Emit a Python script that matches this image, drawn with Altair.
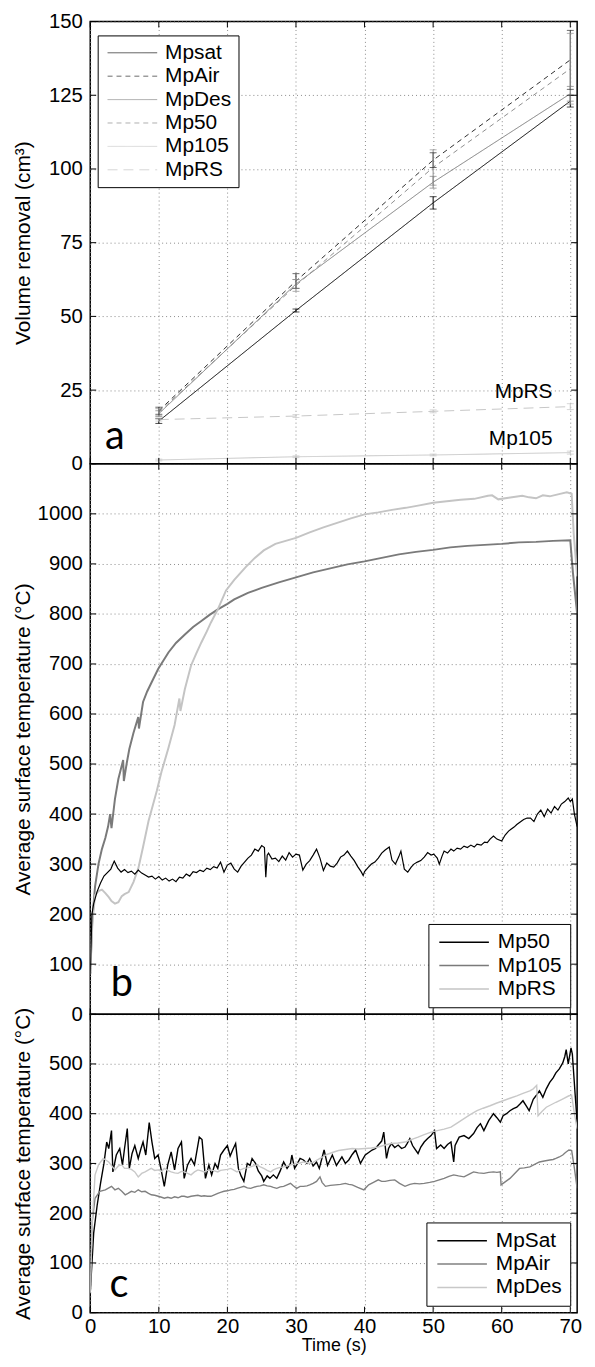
import altair as alt
import pandas as pd

# ---------------- panel a : volume removal ----------------
a_time = [10, 30, 50, 70]
a_names = ["Mpsat", "MpAir", "MpDes", "Mp50", "Mp105", "MpRS"]
a_mpsat = [14.5, 52.0, 88.5, 123.0]
a_mpair = [18.0, 62.0, 103.0, 137.0]
a_mpdes = [17.0, 61.0, 95.5, 125.5]
a_mp50 = [17.5, 60.5, 100.5, 134.0]
a_mp105 = [1.3, 2.4, 3.0, 3.8]
a_mprs = [15.0, 16.2, 17.8, 19.4]
a_err_mpsat = [0.8, 0.5, 2.1, 2.0]
a_err_mpair = [1.2, 2.5, 2.5, 10.0]
a_err_mpdes = [1.0, 1.5, 2.0, 2.5]
a_err_mp50 = [1.2, 2.0, 6.0, 12.0]
a_err_mp105 = [0.3, 0.3, 0.3, 0.5]
a_err_mprs = [0.5, 0.5, 0.5, 1.0]
a_yticks = [0, 25, 50, 75, 100, 125, 150]
a_note_text = ["MpRS", "Mp105"]
a_note_t = [67.4, 67.4]
a_note_v = [22.2, 6.3]

# ---------------- panel b : temperature, Mp50 / Mp105 / MpRS ----------------
b_names = ["Mp50", "Mp105", "MpRS"]
b_mp50 = [(0, 80), (0.25, 200), (0.5, 221), (1.0, 245), (1.5, 262), (2.0, 276), (2.5, 283), (3.0, 290),
          (3.5, 306), (4.0, 292), (4.5, 284), (5.0, 289), (5.5, 283), (6.0, 286), (6.5, 280), (7.0, 288),
          (7.5, 282), (8.0, 278), (8.5, 274), (9.0, 276), (9.5, 270), (10.0, 275), (10.5, 268), (11.0, 272),
          (11.5, 266), (12.0, 270), (12.5, 265), (13.0, 274), (13.5, 272), (14.0, 280), (14.5, 276),
          (15.0, 285), (15.5, 283), (16.0, 288), (16.5, 285), (17.0, 292), (17.5, 289), (18.0, 295),
          (18.5, 292), (19.0, 304), (19.5, 284), (20.0, 298), (20.5, 302), (21.0, 290), (21.5, 284),
          (22.0, 296), (22.5, 304), (23.0, 312), (23.5, 318), (24.0, 330), (24.5, 326), (25.0, 337),
          (25.4, 333), (25.6, 274), (25.8, 318), (26.0, 322), (26.5, 310), (27.0, 312), (27.5, 305),
          (28.0, 316), (28.5, 308), (29.0, 323), (29.5, 314), (30.0, 320), (30.5, 318), (31.0, 288),
          (31.5, 300), (32.0, 307), (32.5, 318), (33.0, 330), (33.5, 312), (34.0, 287), (34.5, 302),
          (35.0, 296), (35.5, 294), (36.0, 302), (36.5, 314), (37.0, 318), (37.5, 326), (38.0, 316),
          (38.5, 307), (39.0, 295), (39.5, 285), (39.8, 277), (40.0, 285), (40.5, 293), (41.0, 300),
          (41.5, 304), (42.0, 312), (42.5, 322), (43.0, 328), (43.6, 334), (44.0, 308), (44.5, 300),
          (45.0, 315), (45.3, 326), (45.8, 290), (46.3, 284), (46.8, 294), (47.2, 300), (47.7, 304),
          (48.2, 307), (48.7, 314), (49.2, 323), (49.7, 318), (50.1, 320), (50.6, 312), (50.9, 300),
          (51.3, 316), (51.6, 326), (52.1, 322), (52.6, 330), (53.0, 326), (53.5, 332), (54.0, 330),
          (54.5, 336), (55.0, 333), (55.5, 338), (56.0, 334), (56.4, 340), (57.0, 338), (57.5, 344),
          (57.9, 343), (58.3, 350), (58.8, 356), (59.3, 350), (60.0, 346), (60.5, 358), (61.0, 366),
          (61.3, 369), (61.8, 374), (62.2, 379), (62.7, 384), (63.2, 389), (63.7, 392), (64.2, 392),
          (64.7, 385), (65.2, 400), (65.7, 408), (66.2, 395), (66.7, 410), (67.2, 402), (67.7, 415),
          (68.2, 408), (68.7, 420), (69.2, 425), (69.7, 432), (70.0, 425), (70.3, 430), (70.6, 400),
          (71.0, 375)]
b_mp105 = [(0, 80), (0.3, 190), (0.7, 255), (1.2, 300), (1.7, 330), (2.2, 352), (2.6, 375), (2.9, 400),
           (3.1, 372), (3.6, 430), (4.1, 470), (4.8, 508), (4.9, 466), (5.3, 500), (5.7, 530), (6.3, 562),
           (7.0, 594), (7.1, 571), (7.7, 624), (8.3, 645), (8.9, 662), (9.9, 690), (11.4, 723), (12.5, 742),
           (13.8, 759), (15.0, 774), (16.2, 786), (17.4, 798), (18.6, 809), (20, 820), (21, 829), (23, 842),
           (25, 852), (27.5, 863), (30, 873), (32.5, 883), (35, 891), (37.5, 899), (40, 905), (42.5, 912),
           (45, 919), (47.5, 924), (50, 928), (52.5, 933), (55, 936), (57.5, 938), (60, 940), (62.5, 943),
           (65, 944), (67.5, 946), (70, 947), (70.4, 880), (71, 800)]
b_mprs = [(0, 80), (0.3, 180), (0.7, 238), (1.2, 246), (1.7, 249), (2.2, 242), (2.7, 234), (3.1, 226),
          (3.6, 221), (4.1, 224), (4.6, 236), (5.0, 240), (5.6, 244), (6.3, 264), (7.0, 291), (7.7, 334),
          (8.5, 386), (8.9, 406), (9.7, 446), (10.4, 485), (11.4, 532), (12.3, 578), (13.0, 631),
          (13.15, 606), (13.8, 650), (14.7, 697), (15.5, 722), (16.2, 743), (17.0, 765), (17.6, 783),
          (18.6, 809), (19.8, 847), (21, 868), (22.7, 894), (24, 912), (25.3, 927), (27, 940), (28.5, 946),
          (30, 952), (32, 963), (34, 973), (36, 982), (38, 991), (40, 999), (42, 1003), (44, 1008),
          (46, 1012), (48, 1017), (50, 1022), (52, 1025), (54, 1028), (56, 1030), (58, 1036), (58.6, 1037),
          (59.5, 1029), (61, 1032), (63, 1036), (64, 1033), (65, 1031), (66, 1037), (67, 1035),
          (68.5, 1040), (69.5, 1043), (70.2, 1040), (70.5, 960), (71, 875)]
b_yticks = [0, 100, 200, 300, 400, 500, 600, 700, 800, 900, 1000]

# ---------------- panel c : temperature, MpSat / MpAir / MpDes ----------------
c_names = ["MpSat", "MpAir", "MpDes"]
c_mpsat = [(0, 40), (0.5, 160), (1.0, 215), (1.5, 260), (2.0, 300), (2.4, 343), (2.7, 330), (3.1, 366),
           (3.3, 283), (3.8, 317), (4.3, 330), (4.7, 297), (5.0, 330), (5.4, 370), (5.7, 290), (6.1, 320),
           (6.5, 336), (7.0, 310), (7.4, 330), (7.7, 343), (8.1, 317), (8.6, 382), (9.0, 343), (9.4, 310),
           (9.9, 317), (10.3, 290), (10.8, 254), (11.3, 297), (11.8, 323), (12.3, 287), (12.8, 330),
           (13.3, 343), (13.7, 270), (14.2, 297), (14.7, 310), (15.2, 297), (15.9, 353), (16.3, 348),
           (16.8, 270), (17.3, 297), (17.7, 277), (18.2, 300), (18.6, 290), (19.0, 317), (19.5, 327),
           (20.0, 336), (20.4, 315), (20.8, 328), (21.2, 340), (21.6, 290), (22.0, 275), (22.4, 264),
           (22.9, 300), (23.3, 296), (23.6, 310), (24.1, 300), (24.5, 285), (25.0, 275), (25.3, 264),
           (25.8, 275), (26.2, 270), (26.7, 277), (27.2, 270), (27.7, 285), (28.2, 303), (28.7, 290),
           (29.2, 300), (29.4, 317), (29.8, 290), (30.1, 297), (30.6, 310), (31.1, 307), (31.6, 300),
           (32.0, 310), (32.5, 295), (33.0, 303), (33.4, 290), (34.1, 327), (34.6, 296), (35.3, 317),
           (35.9, 296), (36.7, 313), (37.2, 300), (37.7, 307), (38.2, 318), (38.7, 327), (39.4, 300),
           (40.1, 317), (40.6, 322), (41.1, 327), (41.6, 330), (42.0, 337), (42.5, 345), (42.8, 363),
           (43.2, 310), (43.5, 330), (43.9, 340), (44.4, 332), (44.9, 337), (45.4, 330), (45.9, 333),
           (46.2, 340), (46.6, 350), (47.0, 336), (47.3, 330), (47.8, 320), (48.2, 333), (48.7, 343),
           (49.2, 350), (49.7, 356), (50.2, 366), (50.5, 330), (51.1, 337), (51.6, 330), (52.1, 338),
           (52.6, 343), (53.0, 303), (53.2, 336), (53.8, 353), (54.5, 356), (55.2, 350), (55.9, 360),
           (56.4, 372), (56.9, 380), (57.4, 366), (58.1, 386), (58.8, 400), (59.3, 392), (59.8, 383),
           (60.2, 396), (60.7, 400), (61.2, 406), (61.7, 410), (62.2, 413), (62.7, 420), (63.1, 426),
           (63.6, 415), (64.0, 406), (64.6, 429), (65.0, 436), (65.5, 446), (66.0, 433), (66.5, 450),
           (67.0, 463), (67.5, 472), (67.9, 482), (68.4, 490), (68.9, 502), (69.2, 515), (69.4, 529),
           (69.7, 500), (70.1, 532), (70.3, 520), (70.7, 440), (71.0, 383)]
c_mpair = [(0, 40), (0.3, 184), (0.7, 230), (1.4, 244), (2.2, 247), (3.1, 254), (3.6, 247), (4.1, 250),
           (4.6, 244), (5.1, 237), (5.5, 240), (6.0, 244), (6.5, 242), (7.0, 247), (7.5, 243), (8.0, 244),
           (8.5, 240), (8.9, 237), (9.4, 236), (9.9, 234), (10.4, 232), (10.8, 230), (11.3, 232),
           (11.8, 230), (12.3, 233), (12.8, 231), (13.3, 234), (13.7, 234), (14.2, 232), (14.7, 234),
           (15.2, 235), (15.7, 236), (16.2, 234), (16.6, 235), (17.1, 234), (17.6, 234), (18.1, 237),
           (18.6, 240), (19.0, 242), (19.5, 244), (20.0, 245), (20.5, 247), (21.0, 248), (21.4, 250),
           (21.9, 252), (22.4, 254), (22.9, 251), (23.4, 250), (23.8, 252), (24.3, 254), (24.8, 255),
           (25.3, 257), (25.8, 255), (26.3, 254), (26.7, 252), (27.2, 250), (27.7, 253), (28.2, 254),
           (28.7, 257), (29.2, 260), (29.6, 255), (30.1, 250), (30.6, 254), (31.1, 254), (31.6, 255),
           (32.0, 257), (32.5, 260), (33.0, 264), (33.5, 273), (33.8, 262), (34.3, 254), (35.0, 256),
           (35.8, 257), (36.5, 258), (37.2, 260), (37.7, 258), (38.2, 257), (39.0, 252), (39.9, 247),
           (40.6, 257), (41.3, 262), (42.0, 267), (42.5, 264), (43.0, 264), (43.7, 266), (44.4, 267),
           (45.1, 260), (45.9, 254), (46.6, 258), (47.3, 260), (48.0, 259), (48.7, 260), (49.5, 262),
           (50.2, 264), (50.9, 267), (51.6, 270), (52.3, 274), (53.0, 277), (53.7, 275), (54.5, 273),
           (55.2, 278), (55.9, 283), (56.6, 281), (57.4, 280), (58.1, 282), (58.8, 283), (59.3, 282),
           (59.8, 283), (59.9, 257), (60.5, 263), (61.2, 270), (61.9, 280), (62.6, 290), (63.3, 291),
           (64.1, 293), (64.8, 298), (65.5, 303), (66.2, 305), (67.0, 307), (67.5, 308), (67.9, 310),
           (68.4, 313), (68.9, 317), (69.3, 322), (69.8, 327), (70.2, 326), (70.6, 290), (71.0, 250)]
c_mpdes = [(0, 40), (0.3, 184), (0.7, 277), (1.2, 297), (1.9, 310), (2.7, 303), (3.6, 287), (4.1, 295),
           (4.6, 297), (5.0, 290), (5.5, 290), (6.0, 288), (6.5, 283), (7.0, 273), (7.5, 280), (8.0, 283),
           (8.5, 287), (8.9, 290), (9.4, 286), (9.9, 287), (10.4, 284), (10.8, 290), (11.3, 286),
           (11.8, 283), (12.3, 281), (12.8, 280), (13.3, 284), (13.7, 283), (14.2, 280), (14.7, 277),
           (15.2, 283), (15.7, 287), (16.2, 285), (16.6, 283), (17.1, 286), (17.6, 287), (18.1, 285),
           (18.6, 283), (19.0, 286), (19.5, 287), (20.0, 288), (20.5, 290), (21.0, 286), (21.4, 283),
           (21.9, 287), (22.4, 290), (22.9, 291), (23.4, 293), (23.8, 295), (24.3, 297), (24.8, 293),
           (25.3, 290), (25.8, 286), (26.3, 283), (26.7, 287), (27.2, 290), (27.7, 292), (28.2, 293),
           (28.7, 295), (29.2, 297), (29.6, 298), (30.1, 300), (30.6, 301), (31.1, 303), (31.6, 302),
           (32.0, 300), (32.5, 302), (33.0, 306), (33.5, 310), (34.0, 314), (34.5, 318), (35.3, 322),
           (36.2, 326), (37.2, 328), (38.2, 330), (39.1, 329), (40.1, 330), (41.0, 331), (42.0, 333),
           (43.0, 337), (43.9, 340), (44.9, 341), (45.9, 343), (46.8, 348), (47.8, 353), (48.7, 358),
           (49.7, 363), (50.6, 366), (51.6, 369), (52.6, 373), (53.5, 381), (54.5, 390), (55.4, 398),
           (56.4, 406), (57.3, 411), (58.3, 416), (59.2, 421), (60.2, 426), (61.2, 431), (62.2, 436),
           (63.1, 441), (64.1, 446), (64.6, 450), (65.1, 457), (65.3, 396), (65.9, 405), (66.5, 413),
           (67.2, 418), (67.9, 423), (68.8, 429), (69.8, 436), (70.2, 437), (70.6, 400), (71.0, 370)]
c_yticks = [0, 100, 200, 300, 400, 500]

# panel letters
letter_text = ["a", "b", "c"]
letter_t = [3.6, 4.6, 4.2]
letter_v = [5.0, 35.6, 32.0]

# ---------------- styles ----------------
W = 491
HA, HB, HC = 446, 555, 301
a_colors = ["#000000", "#2e2e2e", "#7c7c7c", "#8e8e8e", "#c6c6c6", "#c6c6c6"]
a_dashes = [[1, 0], [5, 4], [1, 0], [5, 4], [1, 0], [10, 6]]
b_colors = ["#000000", "#7a7a7a", "#c4c4c4"]
c_colors = ["#000000", "#808080", "#c8c8c8"]
FONT = "Liberation Sans"
LEG_PATH = "M-3,0L17,0"
x_ticks = [0, 10, 20, 30, 40, 50, 60, 70]
xs = alt.Scale(domain=[0, 71], nice=False, zero=False)

# ---------------- data tables ----------------
a_vals = [a_mpsat, a_mpair, a_mpdes, a_mp50, a_mp105, a_mprs]
a_errs = [a_err_mpsat, a_err_mpair, a_err_mpdes, a_err_mp50, a_err_mp105, a_err_mprs]
rows = []
for name, vals, errs in zip(a_names, a_vals, a_errs):
    for t, v, e in zip(a_time, vals, errs):
        rows.append({"series": name, "t": t, "v": v, "lo": v - e, "hi": v + e})
df_a = pd.DataFrame(rows)


def series_frame(names, lists):
    out = []
    for name, pts in zip(names, lists):
        for i, (t, v) in enumerate(pts):
            out.append({"series": name, "t": t, "v": v, "i": i})
    return pd.DataFrame(out)


df_b = series_frame(b_names, [b_mp50, b_mp105, b_mprs])
df_c = series_frame(c_names, [c_mpsat, c_mpair, c_mpdes])

grid_kw = dict(grid=True, gridColor="#8a8a8a", gridDash=[1, 3], gridWidth=1)


def x_axis(show):
    if show:
        return alt.Axis(values=x_ticks, labels=True, ticks=False, tickSize=0, domain=False,
                        title="Time (s)", labelFlush=False, labelPadding=4, titlePadding=0,
                        titleFontSize=18, format="d", **grid_kw)
    return alt.Axis(values=x_ticks, labels=False, ticks=False, tickSize=0, domain=False,
                    title=None, minExtent=0, maxExtent=0, **grid_kw)


def y_axis(vals, title):
    return alt.Axis(values=vals, ticks=False, tickSize=0, domain=False, title=title, labelPadding=8,
                    minExtent=55, maxExtent=55, titlePadding=2, labelFlush=False, format="d",
                    **grid_kw)


def frame_ticks(yvals, ys, H):
    xt = pd.DataFrame({"t": x_ticks})
    yt = pd.DataFrame({"v": yvals})
    xe = alt.X("t:Q", scale=xs)
    ye = alt.Y("v:Q", scale=ys)
    top = alt.Chart(xt).mark_rule(color="black", strokeWidth=1).encode(x=xe, y=alt.value(0), y2=alt.value(6))
    bot = alt.Chart(xt).mark_rule(color="black", strokeWidth=1).encode(x=xe, y=alt.value(H), y2=alt.value(H - 6))
    lef = alt.Chart(yt).mark_rule(color="black", strokeWidth=1).encode(y=ye, x=alt.value(0), x2=alt.value(6))
    rig = alt.Chart(yt).mark_rule(color="black", strokeWidth=1).encode(y=ye, x=alt.value(W), x2=alt.value(W - 6))
    return [top, bot, lef, rig]


def letter(idx, ys):
    d = pd.DataFrame({"t": [letter_t[idx]], "v": [letter_v[idx]], "txt": [letter_text[idx]]})
    return alt.Chart(d).mark_text(font="Lato", fontSize=40, color="black", align="center",
                                  baseline="alphabetic").encode(
        x=alt.X("t:Q", scale=xs), y=alt.Y("v:Q", scale=ys), text="txt:N")


# ---------------- panel a ----------------
ys_a = alt.Scale(domain=[0, 150], nice=False, zero=False)


def leg_a():
    return alt.Legend(title=None, orient="none", legendX=7.5, legendY=14, symbolType=LEG_PATH,
                      symbolSize=25, symbolStrokeWidth=1, labelFont=FONT, labelFontSize=21,
                      labelColor="black", labelOffset=40, padding=7, rowPadding=1.6,
                      strokeColor="black", fillColor="white")


col_a = alt.Color("series:N", scale=alt.Scale(domain=a_names, range=a_colors), legend=leg_a())
dash_a = alt.StrokeDash("series:N", scale=alt.Scale(domain=a_names, range=a_dashes), legend=leg_a())
base_a = alt.Chart(df_a)
lines_a = base_a.mark_line(strokeWidth=1).encode(
    x=alt.X("t:Q", scale=xs, axis=x_axis(False)),
    y=alt.Y("v:Q", scale=ys_a, axis=y_axis(a_yticks, "Volume removal (cm³)")),
    color=col_a, strokeDash=dash_a, order="t:Q")
err_a = base_a.mark_rule(strokeWidth=1).encode(
    x=alt.X("t:Q", scale=xs), y=alt.Y("lo:Q", scale=ys_a), y2="hi:Q", color=col_a)
cap_lo = base_a.mark_tick(orient="horizontal", size=7, thickness=1).encode(
    x=alt.X("t:Q", scale=xs), y=alt.Y("lo:Q", scale=ys_a), color=col_a)
cap_hi = base_a.mark_tick(orient="horizontal", size=7, thickness=1).encode(
    x=alt.X("t:Q", scale=xs), y=alt.Y("hi:Q", scale=ys_a), color=col_a)
notes_a = alt.Chart(pd.DataFrame({"t": a_note_t, "v": a_note_v, "txt": a_note_text})).mark_text(
    font=FONT, fontSize=21, color="black", align="right", baseline="alphabetic").encode(
    x=alt.X("t:Q", scale=xs), y=alt.Y("v:Q", scale=ys_a), text="txt:N")
panel_a = alt.layer(lines_a, err_a, cap_lo, cap_hi, notes_a, letter(0, ys_a),
                    *frame_ticks(a_yticks, ys_a, HA)).properties(width=W, height=HA)

# ---------------- panel b ----------------
ys_b = alt.Scale(domain=[0, 1100], nice=False, zero=False)


def leg_bc():
    return alt.Legend(title=None, orient="bottom-right", offset=7, symbolType=LEG_PATH,
                      symbolSize=25, symbolStrokeWidth=1.5, labelFont=FONT, labelFontSize=21,
                      labelColor="black", labelOffset=41, padding=8, rowPadding=1.5,
                      strokeColor="black", fillColor="white")


col_b = alt.Color("series:N", scale=alt.Scale(domain=b_names, range=b_colors), legend=leg_bc())
base_b = alt.Chart(df_b)
thin_b = base_b.transform_filter(alt.datum.series == "Mp50").mark_line(strokeWidth=1.2, clip=True).encode(
    x=alt.X("t:Q", scale=xs, axis=x_axis(False)),
    y=alt.Y("v:Q", scale=ys_b, axis=y_axis(b_yticks, "Average surface temperature (°C)")),
    color=col_b, order="i:Q")
thick_b = base_b.transform_filter(alt.datum.series != "Mp50").mark_line(strokeWidth=2, clip=True).encode(
    x=alt.X("t:Q", scale=xs), y=alt.Y("v:Q", scale=ys_b), color=col_b, order="i:Q")
panel_b = alt.layer(thick_b, thin_b, letter(1, ys_b),
                    *frame_ticks(b_yticks, ys_b, HB)).properties(width=W, height=HB)

# ---------------- panel c ----------------
ys_c = alt.Scale(domain=[0, 600], nice=False, zero=False)
col_c = alt.Color("series:N", scale=alt.Scale(domain=c_names, range=c_colors), legend=leg_bc())
base_c = alt.Chart(df_c)
lines_c = base_c.mark_line(strokeWidth=1.4, clip=True).encode(
    x=alt.X("t:Q", scale=xs, axis=x_axis(True)),
    y=alt.Y("v:Q", scale=ys_c, axis=y_axis(c_yticks, "Average surface temperature (°C)")),
    color=col_c, order="i:Q")
panel_c = alt.layer(lines_c, letter(2, ys_c),
                    *frame_ticks(c_yticks, ys_c, HC)).properties(width=W, height=HC)

chart = alt.vconcat(panel_a, panel_b, panel_c, spacing=0, bounds="flush").resolve_scale(
    color="independent", strokeDash="independent", y="independent"
).resolve_legend(color="independent", strokeDash="independent").properties(
    padding={"left": 12, "top": 5, "right": 12, "bottom": 0}
).configure_view(stroke="black", strokeWidth=1.5).configure_axis(
    labelFont=FONT, labelFontSize=20.5, labelColor="black", titleFont=FONT, titleFontSize=21,
    titleFontWeight="normal", titleColor="black")

chart.save("out.html", embed_options={"renderer": "svg", "actions": False})
